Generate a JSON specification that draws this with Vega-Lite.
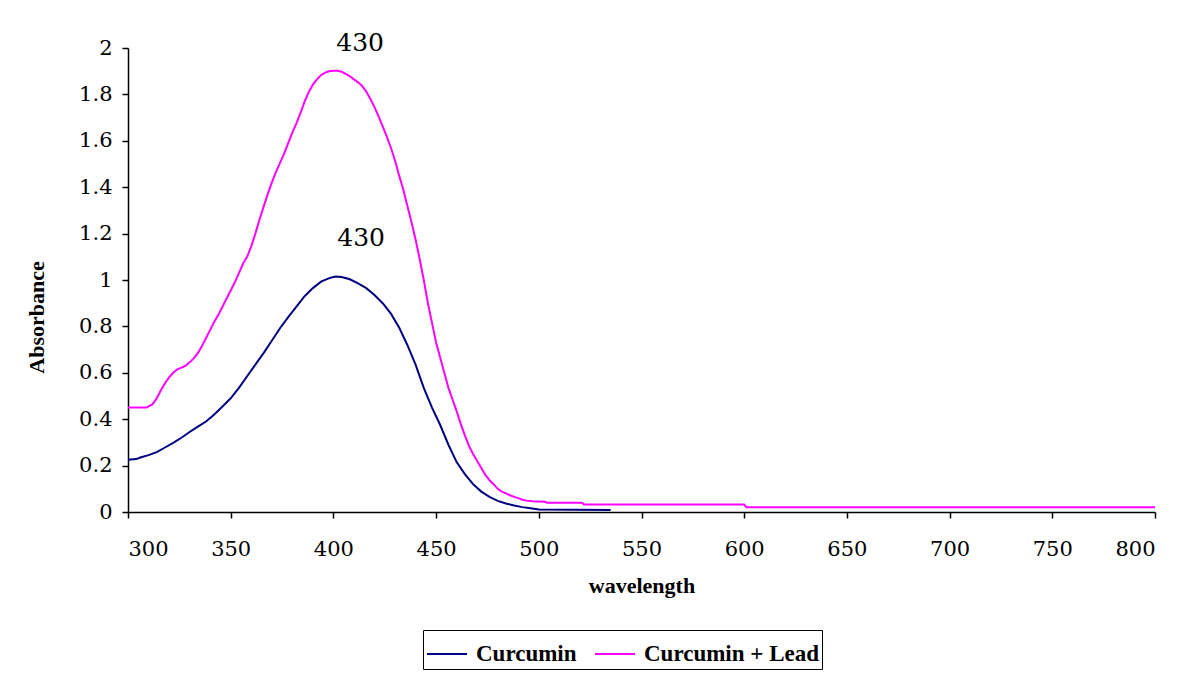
{
  "$schema": "https://vega.github.io/schema/vega-lite/v6.json",
  "width": 1027,
  "height": 464,
  "autosize": {"type": "none"},
  "padding": {"left": 128, "top": 48, "right": 24, "bottom": 176},
  "background": "white",
  "config": {
    "view": {"stroke": null},
    "font": "Liberation Serif",
    "axis": {
      "grid": false,
      "labelFont": "DejaVu Serif",
      "labelFontSize": 21,
      "labelColor": "black",
      "titleFont": "Liberation Serif",
      "titleFontSize": 22,
      "titleFontWeight": "bold",
      "titleColor": "black",
      "domainColor": "black",
      "domainWidth": 1.5,
      "tickColor": "black",
      "tickWidth": 1.5,
      "tickSize": 6
    }
  },
  "datasets": {
    "spectra": [
      {"wavelength": 300, "absorbance": 0.45, "sample": "Curcumin + Lead"},
      {"wavelength": 305, "absorbance": 0.45, "sample": "Curcumin + Lead"},
      {"wavelength": 309, "absorbance": 0.45, "sample": "Curcumin + Lead"},
      {"wavelength": 312, "absorbance": 0.465, "sample": "Curcumin + Lead"},
      {"wavelength": 314, "absorbance": 0.49, "sample": "Curcumin + Lead"},
      {"wavelength": 316, "absorbance": 0.525, "sample": "Curcumin + Lead"},
      {"wavelength": 318, "absorbance": 0.555, "sample": "Curcumin + Lead"},
      {"wavelength": 320, "absorbance": 0.58, "sample": "Curcumin + Lead"},
      {"wavelength": 322, "absorbance": 0.6, "sample": "Curcumin + Lead"},
      {"wavelength": 324, "absorbance": 0.615, "sample": "Curcumin + Lead"},
      {"wavelength": 326, "absorbance": 0.622, "sample": "Curcumin + Lead"},
      {"wavelength": 328, "absorbance": 0.63, "sample": "Curcumin + Lead"},
      {"wavelength": 330, "absorbance": 0.645, "sample": "Curcumin + Lead"},
      {"wavelength": 332, "absorbance": 0.662, "sample": "Curcumin + Lead"},
      {"wavelength": 334, "absorbance": 0.685, "sample": "Curcumin + Lead"},
      {"wavelength": 336, "absorbance": 0.715, "sample": "Curcumin + Lead"},
      {"wavelength": 338, "absorbance": 0.75, "sample": "Curcumin + Lead"},
      {"wavelength": 340, "absorbance": 0.785, "sample": "Curcumin + Lead"},
      {"wavelength": 342, "absorbance": 0.82, "sample": "Curcumin + Lead"},
      {"wavelength": 344, "absorbance": 0.85, "sample": "Curcumin + Lead"},
      {"wavelength": 346, "absorbance": 0.885, "sample": "Curcumin + Lead"},
      {"wavelength": 348, "absorbance": 0.92, "sample": "Curcumin + Lead"},
      {"wavelength": 350, "absorbance": 0.955, "sample": "Curcumin + Lead"},
      {"wavelength": 352, "absorbance": 0.99, "sample": "Curcumin + Lead"},
      {"wavelength": 354, "absorbance": 1.03, "sample": "Curcumin + Lead"},
      {"wavelength": 356, "absorbance": 1.07, "sample": "Curcumin + Lead"},
      {"wavelength": 358, "absorbance": 1.1, "sample": "Curcumin + Lead"},
      {"wavelength": 360, "absorbance": 1.145, "sample": "Curcumin + Lead"},
      {"wavelength": 362, "absorbance": 1.2, "sample": "Curcumin + Lead"},
      {"wavelength": 364, "absorbance": 1.26, "sample": "Curcumin + Lead"},
      {"wavelength": 366, "absorbance": 1.315, "sample": "Curcumin + Lead"},
      {"wavelength": 368, "absorbance": 1.37, "sample": "Curcumin + Lead"},
      {"wavelength": 370, "absorbance": 1.42, "sample": "Curcumin + Lead"},
      {"wavelength": 372, "absorbance": 1.465, "sample": "Curcumin + Lead"},
      {"wavelength": 374, "absorbance": 1.505, "sample": "Curcumin + Lead"},
      {"wavelength": 376, "absorbance": 1.545, "sample": "Curcumin + Lead"},
      {"wavelength": 378, "absorbance": 1.59, "sample": "Curcumin + Lead"},
      {"wavelength": 380, "absorbance": 1.635, "sample": "Curcumin + Lead"},
      {"wavelength": 382, "absorbance": 1.675, "sample": "Curcumin + Lead"},
      {"wavelength": 384, "absorbance": 1.72, "sample": "Curcumin + Lead"},
      {"wavelength": 386, "absorbance": 1.77, "sample": "Curcumin + Lead"},
      {"wavelength": 388, "absorbance": 1.81, "sample": "Curcumin + Lead"},
      {"wavelength": 390, "absorbance": 1.842, "sample": "Curcumin + Lead"},
      {"wavelength": 392, "absorbance": 1.865, "sample": "Curcumin + Lead"},
      {"wavelength": 394, "absorbance": 1.883, "sample": "Curcumin + Lead"},
      {"wavelength": 396, "absorbance": 1.894, "sample": "Curcumin + Lead"},
      {"wavelength": 398, "absorbance": 1.9, "sample": "Curcumin + Lead"},
      {"wavelength": 400, "absorbance": 1.902, "sample": "Curcumin + Lead"},
      {"wavelength": 402, "absorbance": 1.902, "sample": "Curcumin + Lead"},
      {"wavelength": 404, "absorbance": 1.898, "sample": "Curcumin + Lead"},
      {"wavelength": 406, "absorbance": 1.888, "sample": "Curcumin + Lead"},
      {"wavelength": 408, "absorbance": 1.878, "sample": "Curcumin + Lead"},
      {"wavelength": 410, "absorbance": 1.865, "sample": "Curcumin + Lead"},
      {"wavelength": 412, "absorbance": 1.852, "sample": "Curcumin + Lead"},
      {"wavelength": 414, "absorbance": 1.836, "sample": "Curcumin + Lead"},
      {"wavelength": 416, "absorbance": 1.812, "sample": "Curcumin + Lead"},
      {"wavelength": 418, "absorbance": 1.78, "sample": "Curcumin + Lead"},
      {"wavelength": 420, "absorbance": 1.745, "sample": "Curcumin + Lead"},
      {"wavelength": 422, "absorbance": 1.705, "sample": "Curcumin + Lead"},
      {"wavelength": 424, "absorbance": 1.662, "sample": "Curcumin + Lead"},
      {"wavelength": 426, "absorbance": 1.618, "sample": "Curcumin + Lead"},
      {"wavelength": 428, "absorbance": 1.57, "sample": "Curcumin + Lead"},
      {"wavelength": 430, "absorbance": 1.515, "sample": "Curcumin + Lead"},
      {"wavelength": 432, "absorbance": 1.45, "sample": "Curcumin + Lead"},
      {"wavelength": 434, "absorbance": 1.39, "sample": "Curcumin + Lead"},
      {"wavelength": 436, "absorbance": 1.32, "sample": "Curcumin + Lead"},
      {"wavelength": 438, "absorbance": 1.25, "sample": "Curcumin + Lead"},
      {"wavelength": 440, "absorbance": 1.175, "sample": "Curcumin + Lead"},
      {"wavelength": 442, "absorbance": 1.09, "sample": "Curcumin + Lead"},
      {"wavelength": 444, "absorbance": 1.0, "sample": "Curcumin + Lead"},
      {"wavelength": 446, "absorbance": 0.9, "sample": "Curcumin + Lead"},
      {"wavelength": 448, "absorbance": 0.815, "sample": "Curcumin + Lead"},
      {"wavelength": 450, "absorbance": 0.73, "sample": "Curcumin + Lead"},
      {"wavelength": 452, "absorbance": 0.665, "sample": "Curcumin + Lead"},
      {"wavelength": 454, "absorbance": 0.6, "sample": "Curcumin + Lead"},
      {"wavelength": 456, "absorbance": 0.535, "sample": "Curcumin + Lead"},
      {"wavelength": 458, "absorbance": 0.485, "sample": "Curcumin + Lead"},
      {"wavelength": 460, "absorbance": 0.435, "sample": "Curcumin + Lead"},
      {"wavelength": 462, "absorbance": 0.38, "sample": "Curcumin + Lead"},
      {"wavelength": 464, "absorbance": 0.33, "sample": "Curcumin + Lead"},
      {"wavelength": 466, "absorbance": 0.285, "sample": "Curcumin + Lead"},
      {"wavelength": 468, "absorbance": 0.25, "sample": "Curcumin + Lead"},
      {"wavelength": 470, "absorbance": 0.22, "sample": "Curcumin + Lead"},
      {"wavelength": 472, "absorbance": 0.19, "sample": "Curcumin + Lead"},
      {"wavelength": 474, "absorbance": 0.16, "sample": "Curcumin + Lead"},
      {"wavelength": 476, "absorbance": 0.137, "sample": "Curcumin + Lead"},
      {"wavelength": 478, "absorbance": 0.12, "sample": "Curcumin + Lead"},
      {"wavelength": 480, "absorbance": 0.1, "sample": "Curcumin + Lead"},
      {"wavelength": 482, "absorbance": 0.088, "sample": "Curcumin + Lead"},
      {"wavelength": 484, "absorbance": 0.08, "sample": "Curcumin + Lead"},
      {"wavelength": 486, "absorbance": 0.072, "sample": "Curcumin + Lead"},
      {"wavelength": 488, "absorbance": 0.065, "sample": "Curcumin + Lead"},
      {"wavelength": 490, "absorbance": 0.06, "sample": "Curcumin + Lead"},
      {"wavelength": 492, "absorbance": 0.053, "sample": "Curcumin + Lead"},
      {"wavelength": 494, "absorbance": 0.049, "sample": "Curcumin + Lead"},
      {"wavelength": 497, "absorbance": 0.046, "sample": "Curcumin + Lead"},
      {"wavelength": 503, "absorbance": 0.044, "sample": "Curcumin + Lead"},
      {"wavelength": 504, "absorbance": 0.04, "sample": "Curcumin + Lead"},
      {"wavelength": 521, "absorbance": 0.04, "sample": "Curcumin + Lead"},
      {"wavelength": 522, "absorbance": 0.032, "sample": "Curcumin + Lead"},
      {"wavelength": 600, "absorbance": 0.032, "sample": "Curcumin + Lead"},
      {"wavelength": 601, "absorbance": 0.021, "sample": "Curcumin + Lead"},
      {"wavelength": 800, "absorbance": 0.021, "sample": "Curcumin + Lead"},
      {"wavelength": 300, "absorbance": 0.225, "sample": "Curcumin"},
      {"wavelength": 304, "absorbance": 0.228, "sample": "Curcumin"},
      {"wavelength": 306, "absorbance": 0.235, "sample": "Curcumin"},
      {"wavelength": 310, "absorbance": 0.245, "sample": "Curcumin"},
      {"wavelength": 314, "absorbance": 0.258, "sample": "Curcumin"},
      {"wavelength": 318, "absorbance": 0.278, "sample": "Curcumin"},
      {"wavelength": 322, "absorbance": 0.298, "sample": "Curcumin"},
      {"wavelength": 326, "absorbance": 0.32, "sample": "Curcumin"},
      {"wavelength": 330, "absorbance": 0.345, "sample": "Curcumin"},
      {"wavelength": 334, "absorbance": 0.368, "sample": "Curcumin"},
      {"wavelength": 338, "absorbance": 0.39, "sample": "Curcumin"},
      {"wavelength": 342, "absorbance": 0.42, "sample": "Curcumin"},
      {"wavelength": 346, "absorbance": 0.455, "sample": "Curcumin"},
      {"wavelength": 350, "absorbance": 0.49, "sample": "Curcumin"},
      {"wavelength": 354, "absorbance": 0.535, "sample": "Curcumin"},
      {"wavelength": 358, "absorbance": 0.585, "sample": "Curcumin"},
      {"wavelength": 362, "absorbance": 0.635, "sample": "Curcumin"},
      {"wavelength": 366, "absorbance": 0.685, "sample": "Curcumin"},
      {"wavelength": 370, "absorbance": 0.738, "sample": "Curcumin"},
      {"wavelength": 374, "absorbance": 0.792, "sample": "Curcumin"},
      {"wavelength": 378, "absorbance": 0.84, "sample": "Curcumin"},
      {"wavelength": 382, "absorbance": 0.885, "sample": "Curcumin"},
      {"wavelength": 386, "absorbance": 0.93, "sample": "Curcumin"},
      {"wavelength": 390, "absorbance": 0.965, "sample": "Curcumin"},
      {"wavelength": 394, "absorbance": 0.993, "sample": "Curcumin"},
      {"wavelength": 398, "absorbance": 1.008, "sample": "Curcumin"},
      {"wavelength": 401, "absorbance": 1.015, "sample": "Curcumin"},
      {"wavelength": 404, "absorbance": 1.013, "sample": "Curcumin"},
      {"wavelength": 408, "absorbance": 1.003, "sample": "Curcumin"},
      {"wavelength": 412, "absorbance": 0.985, "sample": "Curcumin"},
      {"wavelength": 416, "absorbance": 0.965, "sample": "Curcumin"},
      {"wavelength": 420, "absorbance": 0.935, "sample": "Curcumin"},
      {"wavelength": 424, "absorbance": 0.9, "sample": "Curcumin"},
      {"wavelength": 428, "absorbance": 0.855, "sample": "Curcumin"},
      {"wavelength": 432, "absorbance": 0.795, "sample": "Curcumin"},
      {"wavelength": 436, "absorbance": 0.72, "sample": "Curcumin"},
      {"wavelength": 440, "absorbance": 0.635, "sample": "Curcumin"},
      {"wavelength": 444, "absorbance": 0.535, "sample": "Curcumin"},
      {"wavelength": 448, "absorbance": 0.45, "sample": "Curcumin"},
      {"wavelength": 452, "absorbance": 0.375, "sample": "Curcumin"},
      {"wavelength": 456, "absorbance": 0.29, "sample": "Curcumin"},
      {"wavelength": 460, "absorbance": 0.215, "sample": "Curcumin"},
      {"wavelength": 464, "absorbance": 0.163, "sample": "Curcumin"},
      {"wavelength": 468, "absorbance": 0.12, "sample": "Curcumin"},
      {"wavelength": 472, "absorbance": 0.088, "sample": "Curcumin"},
      {"wavelength": 476, "absorbance": 0.065, "sample": "Curcumin"},
      {"wavelength": 480, "absorbance": 0.048, "sample": "Curcumin"},
      {"wavelength": 484, "absorbance": 0.037, "sample": "Curcumin"},
      {"wavelength": 488, "absorbance": 0.028, "sample": "Curcumin"},
      {"wavelength": 492, "absorbance": 0.021, "sample": "Curcumin"},
      {"wavelength": 496, "absorbance": 0.016, "sample": "Curcumin"},
      {"wavelength": 500, "absorbance": 0.011, "sample": "Curcumin"},
      {"wavelength": 535, "absorbance": 0.009, "sample": "Curcumin"}
    ],
    "peaks": [
      {"wavelength": 413, "absorbance": 1.985, "label": "430"},
      {"wavelength": 413.5, "absorbance": 1.147, "label": "430"}
    ]
  },
  "layer": [
    {
      "data": {"name": "spectra"},
      "mark": {"type": "line", "strokeWidth": 2},
      "encoding": {
        "x": {
          "field": "wavelength",
          "type": "quantitative",
          "scale": {"domain": [300, 800], "nice": false, "zero": false},
          "axis": {
            "title": "wavelength",
            "values": [300, 350, 400, 450, 500, 550, 600, 650, 700, 750, 800],
            "format": "d",
            "labelPadding": 20,
            "titlePadding": 16
          }
        },
        "y": {
          "field": "absorbance",
          "type": "quantitative",
          "scale": {"domain": [0, 2], "nice": false},
          "axis": {
            "title": "Absorbance",
            "values": [0, 0.2, 0.4, 0.6, 0.8, 1, 1.2, 1.4, 1.6, 1.8, 2],
            "format": "~g",
            "labelPadding": 10,
            "titlePadding": 30,
            "titleY": 269
          }
        },
        "color": {
          "field": "sample",
          "type": "nominal",
          "scale": {"domain": ["Curcumin", "Curcumin + Lead"], "range": ["#000080", "#FF00FF"]},
          "legend": {
            "title": null,
            "orient": "none",
            "legendX": 295,
            "legendY": 582,
            "direction": "horizontal",
            "symbolType": "stroke",
            "symbolSize": 1600,
            "symbolStrokeWidth": 2,
            "labelFont": "Liberation Serif",
            "labelFontSize": 23,
            "labelFontWeight": "bold",
            "labelColor": "black",
            "labelOffset": 8,
            "labelLimit": 400,
            "columnPadding": 14,
            "strokeColor": "black",
            "padding": 3
          }
        }
      }
    },
    {
      "data": {"name": "peaks"},
      "mark": {"type": "text", "fontSize": 25, "font": "DejaVu Serif", "baseline": "alphabetic", "align": "center", "color": "black"},
      "encoding": {
        "x": {"field": "wavelength", "type": "quantitative"},
        "y": {"field": "absorbance", "type": "quantitative"},
        "text": {"field": "label"}
      }
    }
  ]
}
